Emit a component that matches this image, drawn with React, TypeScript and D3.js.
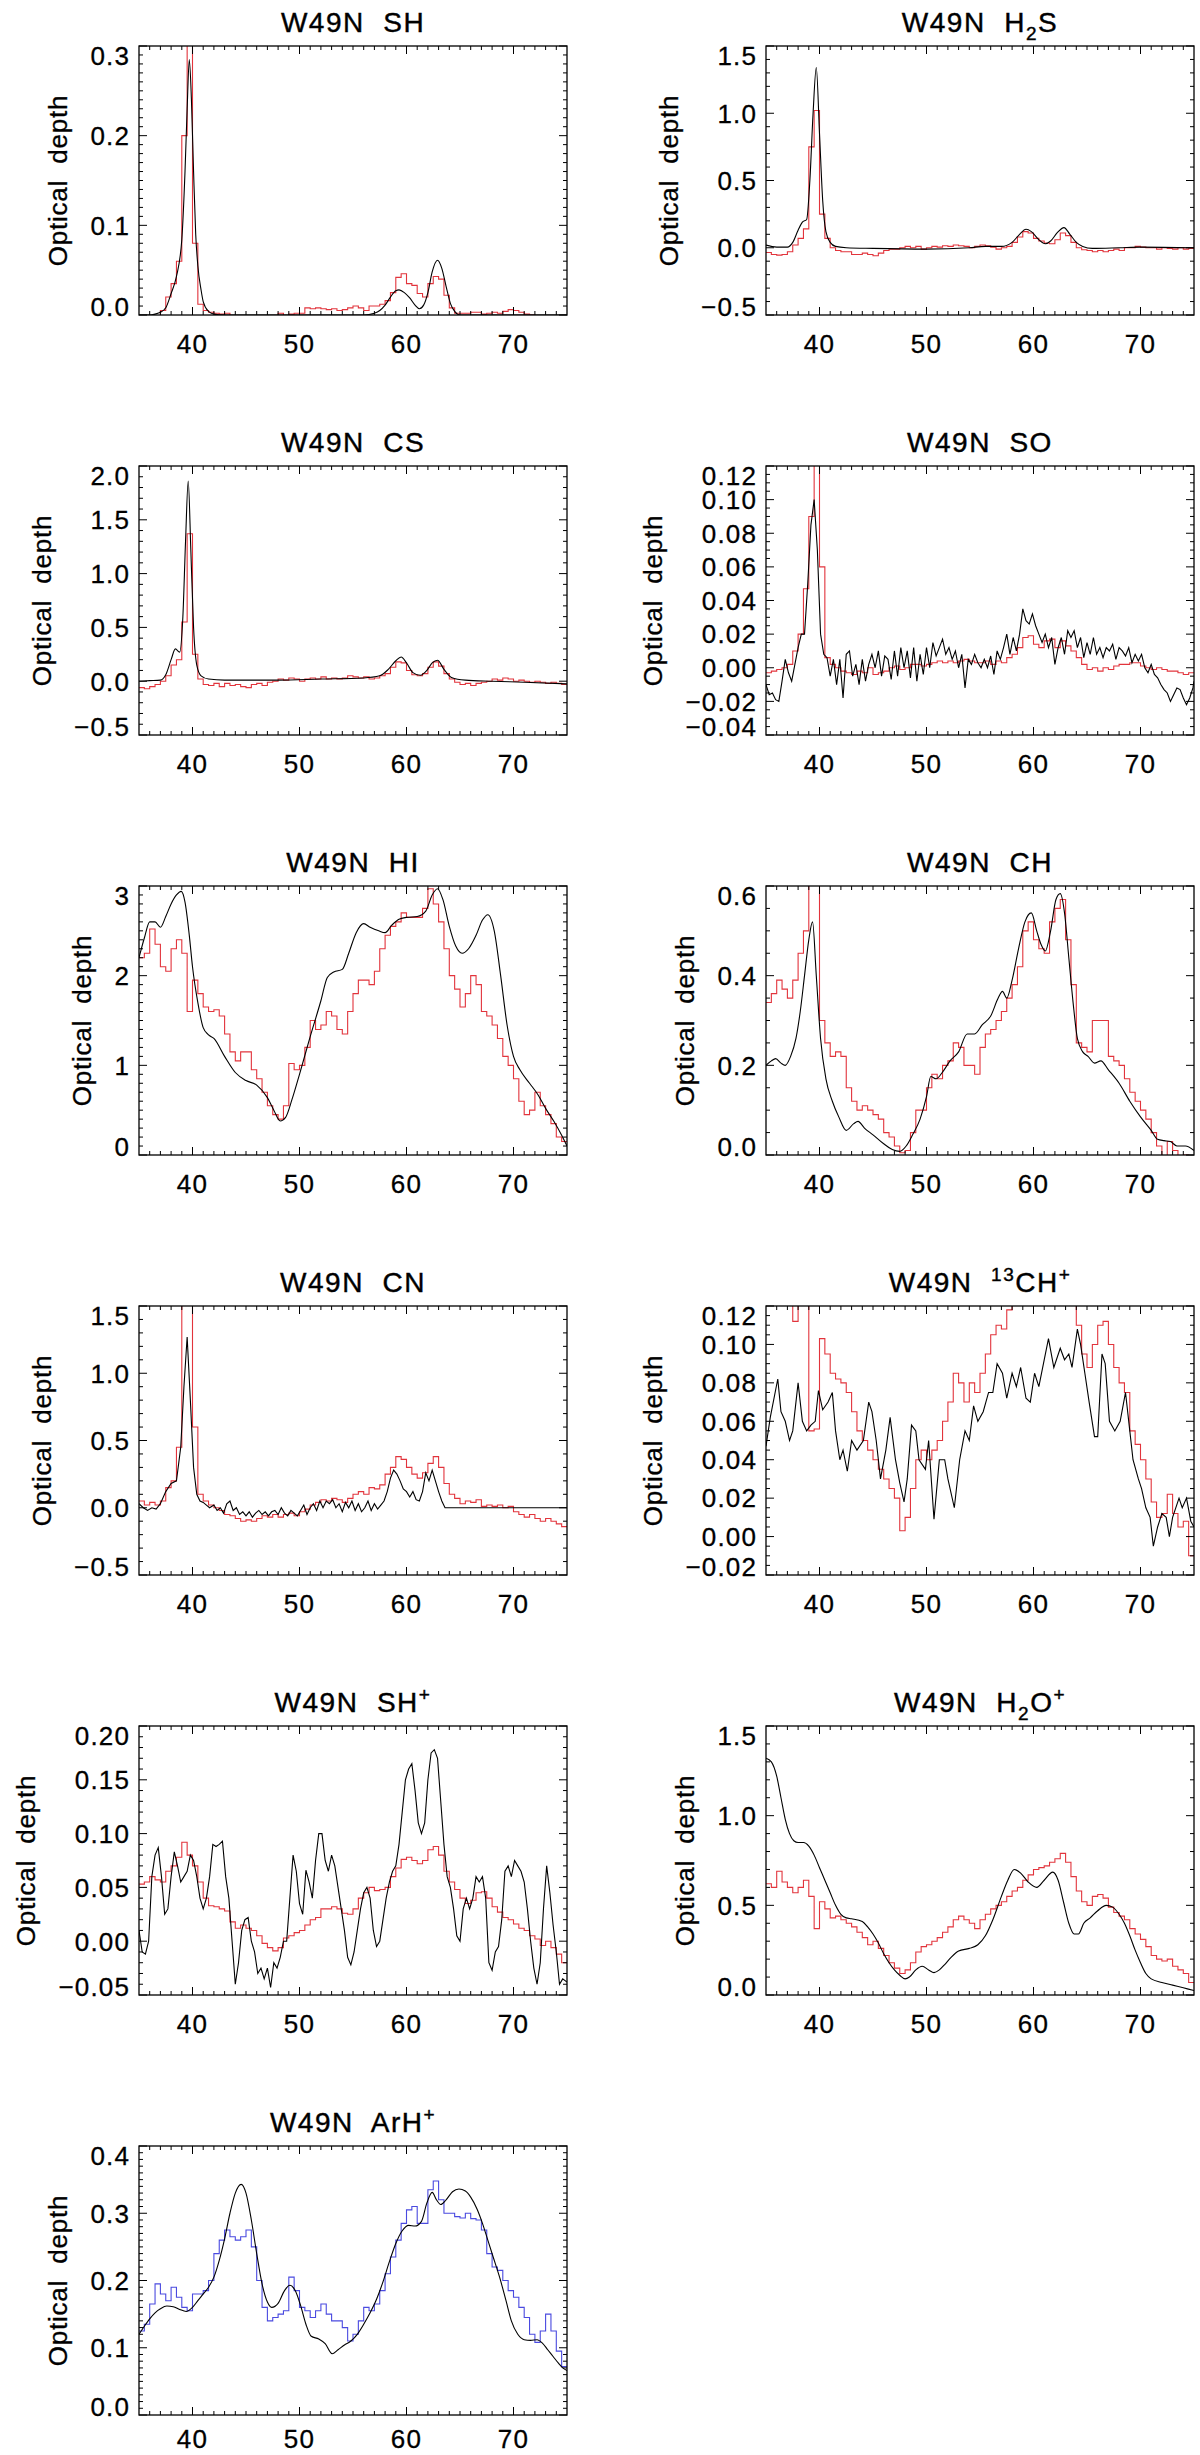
import * as d3 from "d3";

// velocity axis (km/s) shared by every panel
const VMIN = 35;
const VMAX = 75;
const BIN = 0.5; // width of the observed-spectrum channels
const xMajor = [40, 50, 60, 70];

// ---------- model curves: [velocity, optical depth] ----------
const shModel = [[35,0],[36,0],[36.5,0.001],[37,0.003],[37.5,0.008],[38,0.024],[38.5,0.043],[39,0.084],[39.3,0.16],[39.5,0.23],[39.7,0.285],[39.9,0.24],[40.1,0.16],[40.3,0.09],[40.5,0.055],[40.8,0.028],[41,0.015],[41.5,0.004],[42,0.001],[43,0],[56,0],[57,0.002],[57.5,0.005],[58,0.011],[58.5,0.02],[59,0.027],[59.3,0.028],[59.8,0.025],[60.3,0.019],[60.8,0.011],[61.2,0.007],[61.6,0.011],[62,0.025],[62.4,0.048],[62.9,0.061],[63.3,0.052],[63.7,0.032],[64.1,0.013],[64.5,0.004],[65,0],[75,0]];
const h2sModel = [[35,0.02],[36,0.005],[37,0.005],[37.5,0.04],[38,0.13],[38.4,0.19],[38.8,0.21],[39.1,0.5],[39.4,1.0],[39.7,1.34],[40,0.85],[40.3,0.35],[40.6,0.12],[41,0.04],[41.5,0.01],[42.5,0],[45,-0.005],[50,-0.01],[54,0],[55.5,0.01],[57,0.01],[58,0.04],[58.7,0.1],[59.3,0.137],[59.8,0.12],[60.5,0.06],[61.1,0.03],[61.6,0.05],[62.2,0.11],[62.85,0.15],[63.4,0.1],[64,0.04],[64.6,0.01],[65.5,-0.005],[68,0],[70,0.005],[75,0]];
const csModel = [[35,0],[36,0.005],[37,0.01],[37.5,0.06],[38,0.2],[38.4,0.3],[38.8,0.27],[39.1,0.6],[39.35,1.3],[39.6,1.86],[39.85,1.2],[40.1,0.5],[40.4,0.15],[40.8,0.05],[41.5,0.02],[43,0.01],[48,0.01],[52,0.02],[56,0.03],[57.5,0.05],[58.3,0.11],[59,0.19],[59.5,0.225],[60,0.17],[60.6,0.08],[61.3,0.055],[61.9,0.1],[62.4,0.17],[62.9,0.195],[63.5,0.11],[64.2,0.035],[65.5,0.01],[68,0],[71,-0.01],[75,-0.025]];
const soModel = [[35,-0.01],[35.3,-0.016],[35.6,-0.015],[35.9,-0.019],[36.2,-0.02],[36.5,-0.008],[36.8,0.005],[37.1,-0.003],[37.4,-0.008],[37.7,0.002],[38,0.012],[38.3,0.02],[38.6,0.02],[38.9,0.05],[39.2,0.085],[39.5,0.1],[39.8,0.07],[40.1,0.02],[40.4,0.008],[40.7,0.006],[41,-0.005],[41.3,0.005],[41.6,-0.01],[41.9,0.005],[42.2,-0.018],[42.5,0.008],[42.8,0.01],[43.1,-0.005],[43.4,0.002],[43.7,-0.01],[44,0.005],[44.3,-0.008],[44.6,0.002],[44.9,0.008],[45.2,0],[45.5,0.01],[45.8,-0.005],[46.1,0.007],[46.4,0.005],[46.7,-0.007],[47,0.01],[47.3,-0.005],[47.6,0.012],[47.9,0],[48.2,0.01],[48.5,-0.006],[48.8,0.012],[49.1,-0.008],[49.4,0.008],[49.7,-0.004],[50,0.012],[50.3,0],[50.6,0.015],[50.9,0.007],[51.2,0.012],[51.5,0.017],[51.8,0.008],[52.1,0.012],[52.4,0.005],[52.7,0.01],[53,0],[53.3,0.008],[53.6,-0.012],[53.9,0.005],[54.2,0.002],[54.5,0.008],[54.8,0.003],[55.1,0],[55.4,0.005],[55.7,0],[56,0.007],[56.3,-0.004],[56.6,0.01],[56.9,0.005],[57.2,0.012],[57.5,0.02],[57.8,0.008],[58.1,0.018],[58.4,0.01],[58.7,0.02],[59,0.035],[59.3,0.028],[59.6,0.026],[59.9,0.032],[60.2,0.025],[60.5,0.02],[60.8,0.015],[61.1,0.02],[61.4,0.012],[61.7,0.018],[62,0.002],[62.3,0.012],[62.6,0.018],[62.9,0.008],[63.2,0.022],[63.5,0.018],[63.8,0.022],[64.1,0.012],[64.4,0.018],[64.7,0.006],[65,0.015],[65.3,0.008],[65.6,0.018],[65.9,0.008],[66.2,0.012],[66.5,0.006],[66.8,0.012],[67.1,0.01],[67.4,0.014],[67.7,0.005],[68,0.012],[68.3,0.01],[68.6,0.007],[68.9,0.012],[69.2,0.003],[69.5,0.008],[69.8,0.004],[70.1,0.008],[70.4,0],[70.7,-0.003],[71,0.002],[71.3,-0.004],[71.6,-0.006],[71.9,-0.01],[72.2,-0.013],[72.5,-0.015],[72.8,-0.02],[73.1,-0.016],[73.4,-0.012],[73.7,-0.013],[74,-0.018],[74.3,-0.022],[74.6,-0.018],[74.9,-0.012],[75,-0.008]];
const hiModel = [[35,2.2],[35.5,2.42],[36,2.6],[36.5,2.6],[37,2.54],[37.5,2.66],[38,2.8],[38.5,2.9],[38.95,2.94],[39.3,2.82],[39.7,2.45],[40,2.1],[40.5,1.7],[41,1.42],[41.5,1.34],[42,1.3],[43,1.1],[44,0.92],[45,0.83],[46,0.78],[47,0.64],[47.6,0.5],[48.2,0.38],[48.7,0.42],[49.3,0.62],[50,0.9],[51,1.32],[52,1.72],[52.6,1.98],[53.2,2.04],[54,2.07],[54.6,2.25],[55.3,2.48],[56,2.58],[56.6,2.54],[57.4,2.5],[58,2.48],[58.6,2.56],[59.3,2.63],[60,2.65],[61,2.66],[61.8,2.72],[62.4,2.9],[62.9,2.97],[63.4,2.85],[64,2.55],[64.6,2.33],[65.2,2.25],[65.8,2.3],[66.5,2.45],[67.1,2.62],[67.6,2.68],[68.2,2.5],[68.8,2.0],[69.4,1.45],[70,1.1],[70.6,0.95],[71.5,0.8],[72.3,0.67],[73,0.52],[73.8,0.37],[74.5,0.22],[75,0.1]];
const chModel = [[35,0.2],[35.5,0.21],[35.9,0.215],[36.4,0.205],[36.8,0.2],[37.3,0.22],[37.8,0.26],[38.2,0.32],[38.6,0.4],[39,0.48],[39.35,0.52],[39.7,0.4],[40.1,0.26],[40.6,0.17],[41.2,0.12],[41.8,0.085],[42.5,0.055],[43.2,0.07],[43.6,0.075],[44.2,0.06],[45,0.045],[46,0.025],[46.8,0.012],[47.5,0.008],[48.1,0.02],[48.7,0.045],[49.4,0.08],[50,0.13],[50.4,0.175],[50.9,0.17],[51.5,0.185],[52.2,0.21],[53,0.23],[53.8,0.27],[54.5,0.27],[55.2,0.29],[56,0.31],[56.7,0.35],[57.1,0.365],[57.5,0.35],[58,0.39],[58.6,0.46],[59.2,0.52],[59.8,0.54],[60.3,0.5],[60.7,0.47],[61.1,0.455],[61.6,0.5],[62.1,0.57],[62.5,0.583],[62.9,0.54],[63.3,0.44],[63.7,0.34],[64.1,0.26],[64.6,0.23],[65.1,0.22],[65.7,0.205],[66.3,0.21],[67,0.19],[68,0.16],[69,0.12],[70,0.085],[71,0.055],[71.6,0.035],[72.2,0.032],[72.8,0.03],[73.4,0.02],[74.2,0.02],[75,0.01]];
const cnModel = [[35,0.03],[35.4,0],[35.8,-0.02],[36.2,0],[36.6,-0.01],[37,0.03],[37.5,0.12],[38,0.18],[38.5,0.2],[38.9,0.45],[39.2,0.9],[39.5,1.27],[39.8,0.8],[40.1,0.3],[40.4,0.1],[40.7,0.05],[41,0.04],[41.3,0.02],[41.6,0],[42,0.02],[42.3,-0.02],[42.6,0],[42.9,-0.04],[43.2,0.03],[43.5,0.05],[43.8,-0.02],[44.1,0],[44.4,-0.05],[44.7,-0.03],[45,-0.06],[45.3,-0.03],[45.6,-0.07],[45.9,-0.04],[46.2,-0.02],[46.5,-0.05],[46.8,-0.03],[47.1,-0.06],[47.4,-0.03],[47.7,-0.02],[48,-0.05],[48.3,0],[48.6,-0.04],[48.9,-0.06],[49.2,-0.02],[49.5,-0.04],[49.8,-0.06],[50.1,-0.02],[50.4,0.02],[50.7,-0.05],[51,0],[51.3,0.03],[51.6,-0.02],[51.9,0.05],[52.2,0],[52.5,0.05],[52.8,0.03],[53.1,0.06],[53.4,0],[53.7,0.03],[54,-0.03],[54.3,0.04],[54.6,0],[54.9,0.05],[55.2,-0.02],[55.5,0.03],[55.8,-0.03],[56.1,0],[56.4,0.05],[56.7,-0.02],[57,0.03],[57.3,-0.01],[57.6,0.02],[57.9,0.05],[58.2,0.12],[58.5,0.22],[58.8,0.28],[59.1,0.25],[59.4,0.2],[59.7,0.14],[60,0.12],[60.3,0.08],[60.6,0.12],[60.9,0.06],[61.2,0.05],[61.5,0.12],[61.8,0.26],[62.1,0.2],[62.4,0.28],[62.7,0.2],[63,0.12],[63.3,0.05],[63.6,0],[64,0],[75,0]];
const c13hpModel = [[35,0.047],[35.4,0.062],[36.1,0.082],[36.4,0.065],[36.8,0.06],[37.2,0.05],[37.5,0.055],[38,0.08],[38.4,0.06],[38.8,0.055],[39.2,0.058],[39.6,0.06],[39.9,0.076],[40.3,0.066],[40.8,0.07],[41.2,0.075],[41.5,0.055],[41.9,0.04],[42.2,0.045],[42.6,0.034],[43,0.05],[43.5,0.045],[44.1,0.05],[44.6,0.07],[44.9,0.065],[45.3,0.05],[45.7,0.03],[46.2,0.045],[46.6,0.062],[47.1,0.04],[47.5,0.028],[47.9,0.018],[48.2,0.03],[48.6,0.058],[49,0.055],[49.3,0.04],[49.9,0.035],[50.2,0.05],[50.7,0.009],[51.2,0.04],[51.7,0.04],[52,0.03],[52.6,0.015],[53.1,0.04],[53.6,0.055],[54,0.05],[54.4,0.068],[54.8,0.06],[55.3,0.065],[55.8,0.075],[56.2,0.075],[56.6,0.09],[57.1,0.085],[57.5,0.072],[58,0.085],[58.4,0.078],[58.8,0.088],[59.3,0.072],[59.7,0.07],[60.1,0.085],[60.5,0.078],[61,0.092],[61.4,0.103],[61.9,0.088],[62.5,0.098],[62.9,0.092],[63.3,0.095],[63.6,0.088],[64.1,0.108],[64.4,0.1],[64.8,0.085],[65.2,0.07],[65.7,0.052],[66,0.052],[66.4,0.095],[66.7,0.09],[67.1,0.06],[67.6,0.055],[68.1,0.06],[68.6,0.075],[69,0.055],[69.3,0.04],[69.8,0.03],[70.1,0.025],[70.5,0.015],[70.9,0.01],[71.2,-0.005],[71.6,0.005],[72,0.012],[72.4,0.01],[72.7,0],[73,0.01],[73.6,0.02],[73.9,0.015],[74.3,0.02],[74.7,0.008],[75,0.005]];
const shpModel = [[35,0.01],[35.3,-0.01],[35.6,-0.012],[35.9,0],[36.2,0.06],[36.5,0.08],[36.8,0.087],[37.1,0.06],[37.4,0.025],[37.7,0.03],[38,0.06],[38.3,0.083],[38.6,0.07],[38.9,0.055],[39.2,0.06],[39.5,0.065],[39.8,0.08],[40.1,0.075],[40.4,0.06],[40.7,0.04],[41,0.03],[41.3,0.04],[41.6,0.06],[41.9,0.09],[42.2,0.088],[42.5,0.09],[42.8,0.093],[43.1,0.06],[43.4,0.04],[43.7,0],[44,-0.04],[44.3,-0.02],[44.6,0.01],[44.9,0.02],[45.2,0.022],[45.5,0],[45.8,-0.01],[46.1,-0.03],[46.4,-0.025],[46.7,-0.035],[47,-0.025],[47.3,-0.043],[47.6,-0.02],[47.9,-0.025],[48.2,-0.015],[48.5,0],[48.8,0],[49.1,0.04],[49.4,0.08],[49.7,0.065],[50,0.035],[50.3,0.025],[50.6,0.066],[50.9,0.055],[51.2,0.04],[51.5,0.075],[51.8,0.1],[52.1,0.1],[52.4,0.075],[52.7,0.065],[53,0.08],[53.3,0.07],[53.6,0.05],[53.9,0.03],[54.2,0.01],[54.5,-0.015],[54.8,-0.022],[55.1,-0.01],[55.4,0.01],[55.7,0.03],[56,0.045],[56.3,0.05],[56.6,0.04],[56.9,0.01],[57.2,-0.005],[57.5,0],[57.8,0.02],[58.1,0.04],[58.4,0.055],[58.7,0.065],[59,0.07],[59.3,0.09],[59.6,0.12],[59.9,0.15],[60.2,0.16],[60.5,0.165],[60.8,0.14],[61.1,0.11],[61.4,0.1],[61.7,0.11],[62,0.15],[62.3,0.175],[62.6,0.178],[62.9,0.17],[63.2,0.13],[63.5,0.09],[63.8,0.06],[64.1,0.05],[64.4,0.03],[64.7,0.005],[65,0],[65.3,0.03],[65.6,0.04],[65.9,0.03],[66.2,0.04],[66.5,0.06],[66.8,0.055],[67.1,0.06],[67.4,0.04],[67.7,-0.02],[68,-0.027],[68.3,-0.01],[68.6,-0.005],[68.9,0.02],[69.2,0.065],[69.5,0.07],[69.8,0.06],[70.1,0.075],[70.4,0.07],[70.7,0.065],[71,0.055],[71.3,0.03],[71.6,0],[71.9,-0.025],[72.2,-0.04],[72.5,-0.02],[72.8,0.03],[73.1,0.07],[73.4,0.045],[73.7,0.015],[74,-0.01],[74.3,-0.04],[74.6,-0.035],[75,-0.038]];
const h2opModel = [[35,1.32],[35.5,1.3],[36,1.22],[36.4,1.1],[36.8,0.98],[37.2,0.9],[37.6,0.86],[38,0.85],[38.5,0.85],[39,0.83],[39.5,0.78],[40,0.71],[40.5,0.64],[41,0.57],[41.5,0.5],[42,0.45],[42.5,0.43],[43,0.425],[44,0.41],[44.5,0.38],[45,0.34],[45.5,0.29],[46,0.23],[46.5,0.18],[47,0.14],[47.5,0.11],[48,0.09],[48.4,0.1],[49,0.14],[49.6,0.16],[50.2,0.14],[50.7,0.125],[51.2,0.14],[51.7,0.17],[52.3,0.21],[53,0.245],[54,0.26],[54.8,0.28],[55.5,0.33],[56.2,0.42],[57,0.55],[57.6,0.64],[58.2,0.7],[58.8,0.68],[59.5,0.63],[60.3,0.6],[61,0.64],[61.8,0.685],[62.3,0.64],[62.8,0.52],[63.3,0.4],[63.8,0.34],[64.2,0.34],[64.7,0.4],[65.3,0.43],[66,0.47],[66.8,0.5],[67.4,0.49],[68,0.45],[68.5,0.4],[69,0.33],[69.5,0.25],[70,0.18],[70.5,0.12],[71,0.09],[72,0.07],[73,0.055],[74,0.04],[75,0.025]];
const arhpModel = [[35,0.12],[35.5,0.132],[36,0.143],[36.5,0.152],[37,0.158],[37.6,0.162],[38.2,0.161],[38.8,0.157],[39.4,0.154],[40,0.16],[40.5,0.17],[41,0.18],[41.5,0.19],[42,0.205],[42.5,0.23],[43,0.262],[43.5,0.3],[44,0.33],[44.55,0.343],[45,0.33],[45.5,0.29],[46,0.24],[46.5,0.195],[47,0.168],[47.4,0.16],[48,0.166],[48.6,0.185],[49.1,0.193],[49.6,0.185],[50.1,0.163],[50.6,0.135],[51.1,0.117],[51.8,0.113],[52.4,0.106],[53.05,0.091],[53.6,0.097],[54.2,0.104],[54.8,0.11],[55.4,0.12],[56,0.135],[56.6,0.152],[57.2,0.172],[57.8,0.198],[58.4,0.228],[59,0.255],[59.6,0.274],[60.2,0.282],[60.8,0.281],[61.4,0.288],[61.9,0.315],[62.4,0.331],[62.8,0.32],[63.2,0.313],[63.7,0.32],[64.3,0.332],[64.9,0.336],[65.5,0.333],[66,0.324],[66.6,0.306],[67.1,0.285],[67.6,0.26],[68.1,0.235],[68.7,0.205],[69.3,0.17],[69.8,0.14],[70.4,0.12],[71,0.112],[71.6,0.111],[72.2,0.112],[72.7,0.107],[73.2,0.097],[73.7,0.087],[74.2,0.077],[74.6,0.07],[75,0.066]];

// ---------- observed spectra: one value per 0.5 km/s channel from 35 km/s ----------
const shObs = [
  -0.01,-0.01,-0.01,-0.01,0.005,0.02,0.035,0.06,0.2,0.32,
  0.08,0.012,0.005,0.003,0.002,0.001,0.002,-0.005,-0.005,-0.005,
  -0.005,-0.005,-0.005,-0.005,-0.005,-0.005,0.002,-0.003,0.001,0.002,
  0.002,0.008,0.007,0.008,0.007,0.006,0.007,0.005,0.006,0.008,
  0.01,0.008,0.005,0.01,0.01,0.012,0.016,0.025,0.042,0.046,
  0.035,0.033,0.024,0.02,0.035,0.043,0.04,0.022,0.008,0.002,
  0.002,0.002,0.003,0.003,0.001,0.002,0.003,0.002,0.004,0.006,
  0.005,0.003,0.001,0,-0.005,-0.005,-0.005,-0.005,-0.005,-0.005];
const h2sObs = [
  -0.035,-0.05,-0.055,-0.05,-0.03,0.02,0.07,0.14,0.75,1.02,
  0.25,0.07,0,-0.02,-0.03,-0.03,-0.05,-0.05,-0.04,-0.05,
  -0.06,-0.04,-0.02,-0.01,-0.01,0,0.01,0,0.01,-0.01,
  0,0.01,0.005,0.015,0.01,0.02,0.015,0.01,0,0.01,
  0.02,0.015,0.005,-0.01,0,0.01,0.04,0.08,0.12,0.11,
  0.07,0.05,0.035,0.03,0.06,0.11,0.09,0.04,0,-0.015,
  -0.02,-0.03,-0.02,-0.03,-0.02,-0.01,-0.02,0,0,0.01,
  0.005,0,0,-0.01,0,-0.005,-0.01,0,-0.01,-0.005];
const csObs = [
  -0.06,-0.07,-0.05,-0.03,0,0.05,0.15,0.2,0.55,1.37,
  0.25,0.02,-0.03,-0.04,-0.02,-0.05,-0.02,-0.04,-0.03,-0.05,
  -0.06,-0.03,-0.02,-0.04,-0.01,0,0.02,0.01,0.03,0.02,
  0,0.02,0.03,0.02,0.04,0.02,0.03,0.02,0.03,0.05,
  0.04,0.03,0.04,0.02,0.03,0.05,0.07,0.13,0.18,0.17,
  0.1,0.06,0.05,0.07,0.13,0.18,0.14,0.07,0.02,-0.01,
  -0.03,-0.02,-0.04,-0.02,-0.01,0,0.02,0.01,0.03,0.02,
  0,0.01,0,-0.01,0,-0.01,-0.02,-0.01,-0.02,-0.03];
const soObs = [
  -0.003,-0.002,-0.001,0,0.002,0.01,0.02,0.047,0.09,0.13,
  0.06,0.006,0.002,0,-0.002,-0.003,-0.004,-0.002,-0.003,0,
  -0.004,-0.003,-0.002,0,0.001,-0.001,0,0.002,0.002,0.001,
  0.002,0.003,0.004,0.003,0.004,0.003,0.004,0.005,0.004,0.003,
  0.003,0.004,0.002,0.004,0.003,0.006,0.008,0.012,0.018,0.019,
  0.014,0.012,0.016,0.017,0.012,0.016,0.013,0.01,0.006,0.002,
  -0.001,0,-0.002,0,-0.001,0.001,0.002,0.002,0.003,0.003,
  0.001,0,-0.001,0,-0.001,-0.002,-0.002,-0.003,-0.004,-0.003];
const hiObs = [
  2.2,2.25,2.52,2.35,2.1,2.05,2.3,2.4,2.25,1.6,
  1.95,1.8,1.65,1.6,1.62,1.55,1.35,1.15,1.05,1.15,
  1.15,0.95,0.85,0.7,0.55,0.45,0.4,0.55,1.02,0.95,
  1.0,1.2,1.5,1.4,1.45,1.6,1.55,1.4,1.35,1.6,
  1.8,1.95,1.95,1.9,2.05,2.3,2.45,2.55,2.6,2.7,
  2.65,2.65,2.65,2.75,2.97,2.8,2.6,2.3,2.0,1.85,
  1.65,1.8,2.0,1.9,1.6,1.55,1.45,1.3,1.1,1.0,
  0.85,0.6,0.45,0.5,0.7,0.55,0.45,0.35,0.2,0.15];
const chObs = [
  0.34,0.36,0.39,0.37,0.35,0.39,0.45,0.5,0.65,0.65,
  0.3,0.25,0.22,0.23,0.22,0.15,0.12,0.1,0.11,0.1,
  0.09,0.08,0.05,0.04,0.02,0.005,0.01,0.05,0.1,0.1,
  0.15,0.18,0.17,0.2,0.21,0.25,0.24,0.2,0.2,0.18,
  0.24,0.27,0.28,0.3,0.32,0.35,0.38,0.42,0.5,0.52,
  0.48,0.46,0.45,0.52,0.55,0.57,0.48,0.38,0.25,0.24,
  0.23,0.3,0.3,0.3,0.22,0.21,0.2,0.17,0.14,0.12,
  0.1,0.08,0.05,0.02,-0.01,0.03,0.01,-0.01,0,-0.02];
const cnObs = [
  0.05,0.02,0.04,0.02,0.05,0.15,0.2,0.45,1.6,1.6,
  0.6,0.1,0.05,0.02,0,-0.02,-0.05,-0.06,-0.08,-0.1,
  -0.09,-0.1,-0.08,-0.06,-0.07,-0.05,-0.07,-0.05,-0.04,-0.06,
  -0.03,-0.01,0.02,0.04,0.06,0.05,0.07,0.06,0.04,0.07,
  0.1,0.12,0.1,0.15,0.14,0.17,0.25,0.3,0.38,0.36,
  0.3,0.25,0.22,0.26,0.33,0.38,0.3,0.18,0.1,0.07,
  0.03,0.05,0.04,0.06,0.01,0.02,0.01,0.02,0,0.01,
  -0.03,-0.05,-0.07,-0.05,-0.08,-0.1,-0.08,-0.1,-0.12,-0.14];
const c13hpObs = [
  0.13,0.13,0.13,0.13,0.13,0.112,0.13,0.13,0.055,0.056,
  0.103,0.095,0.085,0.082,0.08,0.075,0.065,0.055,0.05,0.045,
  0.04,0.035,0.03,0.025,0.02,0.003,0.01,0.025,0.04,0.045,
  0.04,0.045,0.05,0.06,0.07,0.085,0.08,0.07,0.08,0.075,
  0.085,0.095,0.105,0.11,0.108,0.118,0.13,0.13,0.13,0.13,
  0.13,0.13,0.13,0.13,0.13,0.13,0.13,0.13,0.11,0.095,
  0.088,0.1,0.11,0.112,0.1,0.088,0.08,0.075,0.055,0.048,
  0.04,0.03,0.018,0.01,0.012,0.022,0.012,0.005,0.008,-0.01];
const shpObs = [
  0.053,0.055,0.06,0.057,0.055,0.065,0.07,0.078,0.092,0.08,
  0.07,0.055,0.04,0.033,0.032,0.03,0.028,0.018,0.012,0.015,
  0.012,0.01,0.005,-0.002,-0.006,-0.009,-0.006,0.003,0.005,0.008,
  0.01,0.015,0.02,0.022,0.03,0.03,0.032,0.03,0.026,0.025,
  0.03,0.04,0.045,0.05,0.047,0.048,0.05,0.06,0.068,0.076,
  0.078,0.075,0.072,0.075,0.085,0.088,0.08,0.065,0.055,0.048,
  0.04,0.035,0.038,0.045,0.046,0.04,0.032,0.027,0.022,0.02,
  0.016,0.012,0.01,0.005,0.002,-0.004,0,-0.006,-0.012,-0.02];
const h2opObs = [
  0.62,0.6,0.69,0.63,0.6,0.57,0.6,0.64,0.55,0.37,
  0.52,0.48,0.43,0.44,0.42,0.4,0.38,0.35,0.32,0.28,
  0.3,0.26,0.22,0.18,0.15,0.12,0.14,0.18,0.24,0.27,
  0.28,0.3,0.32,0.35,0.38,0.42,0.44,0.42,0.4,0.37,
  0.42,0.45,0.48,0.5,0.52,0.55,0.58,0.6,0.64,0.67,
  0.7,0.71,0.72,0.74,0.76,0.79,0.74,0.66,0.58,0.52,
  0.5,0.55,0.56,0.54,0.49,0.46,0.44,0.42,0.37,0.34,
  0.31,0.27,0.22,0.2,0.19,0.2,0.16,0.14,0.12,0.07];
const arhpObs = [
  0.125,0.135,0.165,0.195,0.18,0.17,0.19,0.175,0.16,0.155,
  0.18,0.18,0.185,0.2,0.24,0.26,0.275,0.265,0.26,0.265,
  0.275,0.25,0.2,0.16,0.14,0.145,0.15,0.155,0.205,0.185,
  0.16,0.155,0.145,0.155,0.165,0.15,0.14,0.14,0.13,0.11,
  0.12,0.14,0.16,0.155,0.165,0.185,0.21,0.235,0.26,0.285,
  0.305,0.31,0.285,0.285,0.335,0.348,0.32,0.3,0.3,0.295,
  0.293,0.3,0.292,0.29,0.275,0.24,0.22,0.215,0.2,0.185,
  0.175,0.16,0.145,0.12,0.108,0.125,0.15,0.125,0.095,0.072];

const RED = "#e2343c";
const BLUE = "#4a4ae0";

const panels = [
  { title: [{ t: "W49N  SH" }], y: [0, 0.3], step: 0.1, minor: 10, dec: 1, model: shModel, obs: shObs, color: RED },
  { title: [{ t: "W49N  H" }, { t: "2", sub: true }, { t: "S" }], y: [-0.5, 1.5], step: 0.5, minor: 5, dec: 1, model: h2sModel, obs: h2sObs, color: RED },
  { title: [{ t: "W49N  CS" }], y: [-0.5, 2.0], step: 0.5, minor: 5, dec: 1, model: csModel, obs: csObs, color: RED },
  { title: [{ t: "W49N  SO" }], y: [-0.04, 0.12], step: 0.02, minor: 4, dec: 2, model: soModel, obs: soObs, color: RED, noisy: true },
  { title: [{ t: "W49N  HI" }], y: [0, 3], step: 1, minor: 10, dec: 0, model: hiModel, obs: hiObs, color: RED },
  { title: [{ t: "W49N  CH" }], y: [0, 0.6], step: 0.2, minor: 4, dec: 1, model: chModel, obs: chObs, color: RED },
  { title: [{ t: "W49N  CN" }], y: [-0.5, 1.5], step: 0.5, minor: 5, dec: 1, model: cnModel, obs: cnObs, color: RED, noisy: true },
  { title: [{ t: "W49N  " }, { t: "13", sup: true }, { t: "CH" }, { t: "+", sup: true }], y: [-0.02, 0.12], step: 0.02, minor: 4, dec: 2, model: c13hpModel, obs: c13hpObs, color: RED, noisy: true },
  { title: [{ t: "W49N  SH" }, { t: "+", sup: true }], y: [-0.05, 0.2], step: 0.05, minor: 5, dec: 2, model: shpModel, obs: shpObs, color: RED, noisy: true },
  { title: [{ t: "W49N  H" }, { t: "2", sub: true }, { t: "O" }, { t: "+", sup: true }], y: [0, 1.5], step: 0.5, minor: 5, dec: 1, model: h2opModel, obs: h2opObs, color: RED },
  { title: [{ t: "W49N  ArH" }, { t: "+", sup: true }], y: [0, 0.4], step: 0.1, minor: 10, dec: 1, model: arhpModel, obs: arhpObs, color: BLUE },
];

// layout
const WIDTH = 1200;
const HEIGHT = 2455;
const FRAME_W = 428;
const FRAME_H = 269;
const COL_LEFT = [139, 766];
const FIRST_TOP = 46;
const ROW_STEP = 420;
const FONT = "'Liberation Sans', Arial, Helvetica, sans-serif";
const TICK_FS = 26;
const TICK_LS = 1.2;
const MAJOR = 8;
const MINOR = 4;

const fmt = (v, dec) => (v < -1e-9 ? "\u2212" : "") + Math.abs(v).toFixed(dec);
const charW = (c) => (c === "." ? 0.278 : c === "\u2212" ? 0.584 : 0.556);
const textW = (s) => [...s].reduce((a, c) => a + charW(c) * TICK_FS + TICK_LS, 0);

function Title({ parts, x, y }) {
  let shift = 0;
  return (
    <text
      x={x}
      y={y}
      textAnchor="middle"
      fontSize={28}
      letterSpacing={1.5}
      stroke="#000"
      strokeWidth={0.4}
      style={{ whiteSpace: "pre" }}
    >
      {parts.map((p, i) => {
        const target = p.sub ? 8 : p.sup ? -11 : 0;
        const dy = target - shift;
        shift = target;
        return (
          <tspan key={i} dy={dy} fontSize={p.sub || p.sup ? 19 : 28}>
            {p.t}
          </tspan>
        );
      })}
    </text>
  );
}

function Panel({ spec, index }) {
  const row = Math.floor(index / 2);
  const left = COL_LEFT[index % 2];
  const top = FIRST_TOP + row * ROW_STEP;
  const bottom = top + FRAME_H;
  const right = left + FRAME_W;

  const x = d3.scaleLinear().domain([VMIN, VMAX]).range([left, right]);
  const y = d3.scaleLinear().domain(spec.y).range([bottom, top]);

  const model = d3
    .line()
    .x((d) => x(d[0]))
    .y((d) => y(d[1]))
    .curve(spec.noisy ? d3.curveLinear : d3.curveMonotoneX);

  const obsPts = spec.obs.map((v, i) => [VMIN + i * BIN, v]);
  obsPts.push([VMAX, spec.obs[spec.obs.length - 1]]);
  const obs = d3
    .line()
    .x((d) => x(d[0]))
    .y((d) => y(d[1]))
    .curve(d3.curveStepAfter);

  const [y0, y1] = spec.y;
  const yMajor = d3
    .range(Math.ceil(y0 / spec.step - 1e-6), Math.floor(y1 / spec.step + 1e-6) + 1)
    .map((k) => k * spec.step);
  const mStep = spec.step / spec.minor;
  const yMinor = d3
    .range(Math.ceil(y0 / mStep - 1e-6), Math.floor(y1 / mStep + 1e-6) + 1)
    .filter((k) => k % spec.minor !== 0)
    .map((k) => k * mStep);
  const xMinor = d3.range(VMIN + 1, VMAX, 1).filter((v) => v % 10 !== 0);

  const labels = yMajor.map((v) => fmt(v, spec.dec));
  const labelRight = left - 10;
  const labelLeft = labelRight - d3.max(labels, textW);
  const xLabelY = Math.min(bottom + 38, HEIGHT - 7);
  const clipId = `clip-${index}`;

  return (
    <g>
      <clipPath id={clipId}>
        <rect x={left} y={top} width={FRAME_W} height={FRAME_H} />
      </clipPath>
      <Title parts={spec.title} x={(left + right) / 2} y={top - 14} />

      <g clipPath={`url(#${clipId})`} fill="none" strokeWidth={1.1}>
        <path d={obs(obsPts)} stroke={spec.color} />
        <path d={model(spec.model)} stroke="#000" />
      </g>

      <g stroke="#000" strokeWidth={1}>
        {xMajor.map((v) => (
          <g key={`xM${v}`}>
            <line x1={x(v)} x2={x(v)} y1={bottom} y2={bottom - MAJOR} />
            <line x1={x(v)} x2={x(v)} y1={top} y2={top + MAJOR} />
          </g>
        ))}
        {xMinor.map((v) => (
          <g key={`xm${v}`}>
            <line x1={x(v)} x2={x(v)} y1={bottom} y2={bottom - MINOR} />
            <line x1={x(v)} x2={x(v)} y1={top} y2={top + MINOR} />
          </g>
        ))}
        {yMajor.map((v) => (
          <g key={`yM${v}`}>
            <line x1={left} x2={left + MAJOR} y1={y(v)} y2={y(v)} />
            <line x1={right} x2={right - MAJOR} y1={y(v)} y2={y(v)} />
          </g>
        ))}
        {yMinor.map((v) => (
          <g key={`ym${v}`}>
            <line x1={left} x2={left + MINOR} y1={y(v)} y2={y(v)} />
            <line x1={right} x2={right - MINOR} y1={y(v)} y2={y(v)} />
          </g>
        ))}
        <rect x={left} y={top} width={FRAME_W} height={FRAME_H} fill="none" strokeWidth={1.3} />
      </g>

      <g fontSize={TICK_FS} letterSpacing={TICK_LS} stroke="#000" strokeWidth={0.3}>
        {yMajor.map((v, i) => {
          const cy = Math.min(Math.max(y(v), top + 10), bottom - 8);
          return (
            <text key={`yl${v}`} x={labelRight + TICK_LS} y={cy + 9.3} textAnchor="end">
              {labels[i]}
            </text>
          );
        })}
        {xMajor.map((v) => (
          <text key={`xl${v}`} x={x(v)} y={xLabelY} textAnchor="middle">
            {v}
          </text>
        ))}
      </g>

      <text
        transform={`translate(${labelLeft - 22},${(top + bottom) / 2}) rotate(-90)`}
        textAnchor="middle"
        fontSize={26}
        letterSpacing={0.8}
        stroke="#000"
        strokeWidth={0.3}
        style={{ whiteSpace: "pre" }}
      >
        {"Optical  depth"}
      </text>
    </g>
  );
}

export default function App() {
  return (
    <svg
      width={WIDTH}
      height={HEIGHT}
      viewBox={`0 0 ${WIDTH} ${HEIGHT}`}
      style={{ position: "absolute", left: 0, top: 0, background: "#fff" }}
      fontFamily={FONT}
    >
      <rect width={WIDTH} height={HEIGHT} fill="#fff" />
      {panels.map((p, i) => (
        <Panel key={i} spec={p} index={i} />
      ))}
    </svg>
  );
}
